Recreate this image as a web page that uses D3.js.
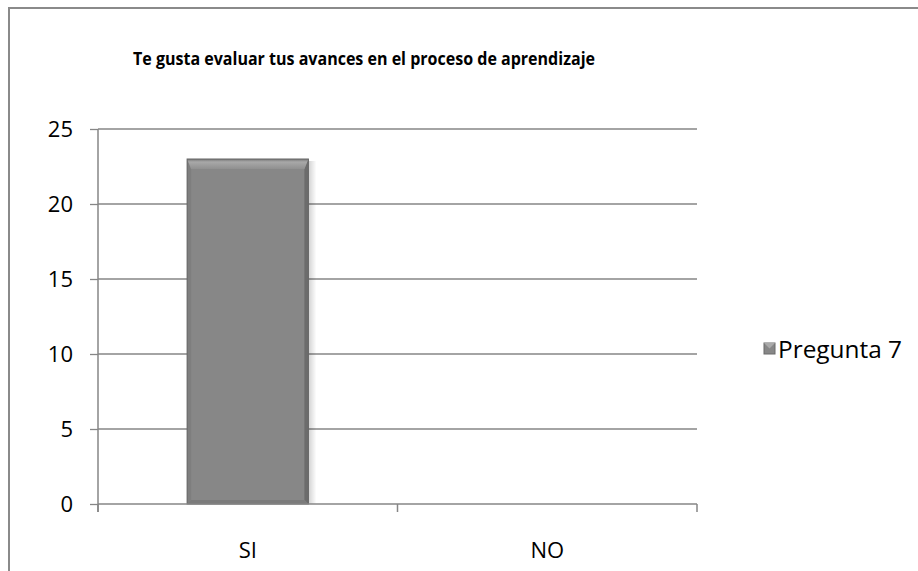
<!DOCTYPE html>
<html>
<head>
<meta charset="utf-8">
<script src="https://cdn.jsdelivr.net/npm/d3@7"></script>
<style>
  body { margin: 0; background: #fff; }
  text { font-family: "Open Sans", Lato, sans-serif; fill: #000; }
</style>
</head>
<body>
<svg id="chart" width="918" height="571"></svg>
<script>
  // chart data
  var categories = ['SI', 'NO'];
  var values = [23, 0];
  var yTicks = [0, 5, 10, 15, 20, 25];
  var seriesName = 'Pregunta 7';
  var title = 'Te gusta evaluar tus avances en el proceso de aprendizaje';

  var svg = d3.select('#chart');
  var margin = {left: 98, top: 129, right: 221, bottom: 67};
  var width = 918 - margin.left - margin.right,
      height = 571 - margin.top - margin.bottom;

  // outer chart border
  svg.append('rect')
      .attr('x', 9).attr('y', 8)
      .attr('width', 930).attr('height', 600)
      .attr('fill', 'none')
      .attr('stroke', '#8a8a8a')
      .attr('stroke-width', 2);

  svg.append('text')
      .attr('x', 364).attr('y', 65)
      .attr('text-anchor', 'middle')
      .attr('font-weight', 'bold')
      .attr('font-size', 18)
      .attr('textLength', 462)
      .attr('lengthAdjust', 'spacingAndGlyphs')
      .text(title);

  var x = d3.scaleBand().domain(categories).range([0, width]);
  var y = d3.scaleLinear().domain([0, 25]).range([height, 0]);

  var g = svg.append('g').attr('transform', 'translate(' + margin.left + ',' + margin.top + ')');

  // gridlines
  g.selectAll('.grid').data(yTicks.slice(1)).enter().append('line')
      .attr('x1', 0).attr('x2', width)
      .attr('y1', function (d) { return y(d); })
      .attr('y2', function (d) { return y(d); })
      .attr('stroke', '#868686').attr('stroke-width', 1.3);

  var defs = svg.append('defs');
  var shadow = defs.append('linearGradient').attr('id', 'shadow');
  shadow.append('stop').attr('offset', '0%').attr('stop-color', '#000').attr('stop-opacity', 0.18);
  shadow.append('stop').attr('offset', '100%').attr('stop-color', '#000').attr('stop-opacity', 0);
  var topGrad = defs.append('linearGradient').attr('id', 'topbev').attr('x1', 0).attr('x2', 0).attr('y1', 0).attr('y2', 1);
  topGrad.append('stop').attr('offset', '0%').attr('stop-color', '#777');
  topGrad.append('stop').attr('offset', '30%').attr('stop-color', '#a8a8a8');
  topGrad.append('stop').attr('offset', '100%').attr('stop-color', '#909090');

  // bars with bevel
  var bw = x.bandwidth() * 0.405;
  var bars = g.selectAll('.bar').data(values.map(function (v, i) { return {c: categories[i], v: v}; }))
      .enter().append('g')
      .filter(function (d) { return d.v > 0; });

  bars.each(function (d) {
    var b = d3.select(this);
    var x0 = x(d.c) + (x.bandwidth() - bw) / 2, x1 = x0 + bw;
    var y0 = y(d.v), y1 = y(0), e = 10, s = 4;
    b.append('rect').attr('x', x1).attr('y', y0 + 2).attr('width', 8).attr('height', y1 - y0 - 2)
        .attr('fill', 'url(#shadow)');
    b.append('rect').attr('x', x0).attr('y', y0).attr('width', bw).attr('height', y1 - y0)
        .attr('fill', '#878787');
    // side bevels
    b.append('polygon').attr('points', [[x0, y0], [x0 + s, y0 + e], [x0 + s, y1 - s], [x0, y1]].join(' '))
        .attr('fill', '#7e7e7e');
    b.append('polygon').attr('points', [[x1, y0], [x1 - s, y0 + e], [x1 - s, y1 - s], [x1, y1]].join(' '))
        .attr('fill', '#6c6c6c');
    // top / bottom bevels
    b.append('polygon').attr('points', [[x0, y0], [x1, y0], [x1 - s, y0 + e], [x0 + s, y0 + e]].join(' '))
        .attr('fill', 'url(#topbev)');
    b.append('polygon').attr('points', [[x0, y1], [x1, y1], [x1 - s, y1 - s], [x0 + s, y1 - s]].join(' '))
        .attr('fill', '#7b7b7b');
    b.append('rect').attr('x', x0).attr('y', y0).attr('width', bw).attr('height', y1 - y0)
        .attr('fill', 'none').attr('stroke', '#666').attr('stroke-width', 1);
  });

  // y axis
  var yAxis = g.append('g').call(d3.axisLeft(y).tickValues(yTicks).tickSize(8).tickPadding(17));
  yAxis.select('.domain').attr('stroke', '#868686').attr('stroke-width', 1.5).attr('d', 'M0,' + (height + 8) + 'V0');
  yAxis.selectAll('.tick line').attr('stroke', '#868686').attr('stroke-width', 1.3);
  yAxis.selectAll('text').attr('font-size', 22).attr('font-family', '"Open Sans", sans-serif').attr('fill', '#000');

  // x axis
  var xg = g.append('g').attr('transform', 'translate(0,' + height + ')');
  xg.append('line').attr('x1', 0).attr('x2', width).attr('stroke', '#868686').attr('stroke-width', 1.5);
  xg.selectAll('.xt').data(d3.range(categories.length + 1)).enter().append('line')
      .attr('x1', function (i) { return i * x.step(); })
      .attr('x2', function (i) { return i * x.step(); })
      .attr('y1', 0).attr('y2', 8)
      .attr('stroke', '#868686').attr('stroke-width', 1.5);
  xg.selectAll('.xl').data(categories).enter().append('text')
      .attr('x', function (d) { return x(d) + x.bandwidth() / 2; })
      .attr('y', 54)
      .attr('text-anchor', 'middle')
      .attr('font-size', 22)
      .text(function (d) { return d; });

  // legend
  var lg = svg.append('g').attr('transform', 'translate(764,343)');
  lg.append('rect').attr('width', 11).attr('height', 11).attr('fill', '#878787').attr('stroke', '#6a6a6a');
  lg.append('polygon').attr('points', '0,0 11,0 5.5,5.5').attr('fill', '#aaa');
  lg.append('text').attr('x', 14).attr('y', 15).attr('font-size', 23)
      .attr('textLength', 124).attr('lengthAdjust', 'spacingAndGlyphs')
      .text(seriesName);
</script>
</body>
</html>
